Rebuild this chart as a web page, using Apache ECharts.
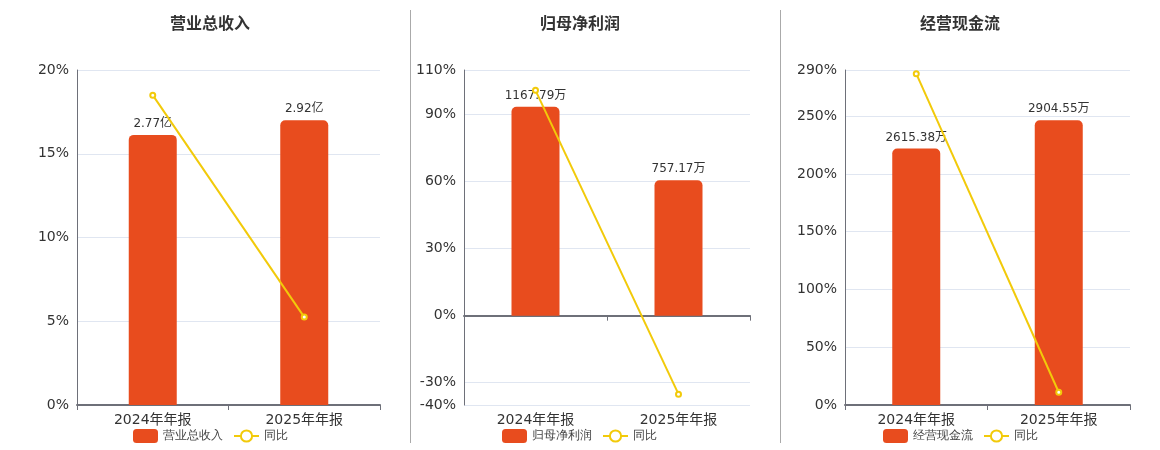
<!DOCTYPE html>
<html>
<head>
<meta charset="utf-8">
<script src="https://cdn.jsdelivr.net/npm/echarts@6/dist/echarts.min.js"></script>
<style>
  html, body { margin: 0; padding: 0; background: #fff; }
  #chart-content { width: 1160px; height: 450px; }
</style>
</head>
<body>
<div id="chart-content"></div>
<script>
  // data
  let categories = ["2024年年报", "2025年年报"];
  let titles = ["营业总收入", "归母净利润", "经营现金流"];
  let barValues = [
    [2.77, 2.92],
    [1167.79, 757.17],
    [2615.38, 2904.55],
  ];
  let barLabels = [
    ["2.77亿", "2.92亿"],
    ["1167.79万", "757.17万"],
    ["2615.38万", "2904.55万"],
  ];
  let yoyValues = [
    [18.5, 5.25],
    [100.9, -35.16],
    [286.8, 11.06],
  ];
  let axisMin = [0, -40, 0];
  let axisMax = [20, 110, 290];
  let axisStep = [5, 10, 50];
  // the % ticks that are labelled / gridded
  let tickValues = [
    [0, 5, 10, 15, 20],
    [-40, -30, 0, 30, 60, 90, 110],
    [0, 50, 100, 150, 200, 250, 290],
  ];

  let grids = [
    { left: 77, right: 780, top: 70, bottom: 45 },
    { left: 464, right: 410, top: 70, bottom: 45 },
    { left: 845, right: 30, top: 70, bottom: 45 },
  ];
  let titleX = [205, 575, 955];
  let legendX = [128, 497, 878];

  let barColor = "#E84C1E";
  let lineColor = "#F2CA0A";
  let textColor = "#333";
  let font = "DejaVu Sans, Noto Sans CJK SC, sans-serif";

  let xAxis = [], yAxis = [], series = [], title = [], legend = [];

  titles.forEach(function (name, i) {
    title.push({
      text: name,
      left: titleX[i],
      top: 12,
      textAlign: "center",
      textStyle: { fontSize: 16, fontWeight: "bold", color: textColor, fontFamily: font },
    });

    // axis line that sits on zero, no labels
    xAxis.push({
      type: "category",
      gridIndex: i,
      data: categories,
      position: "bottom",
      axisLine: { onZero: true, lineStyle: { color: "#6E7079", width: 2 } },
      axisTick: { show: true, lineStyle: { color: "#6E7079" } },
      axisLabel: { show: false },
    });
    // labels at the bottom of the grid
    xAxis.push({
      type: "category",
      gridIndex: i,
      data: categories,
      position: "bottom",
      axisLine: { show: false, onZero: false },
      axisTick: { show: false },
      axisLabel: { color: textColor, fontSize: 14, margin: 8, fontFamily: font },
    });

    // one colour per step, transparent where the reference has no grid line
    let lineColors = [];
    for (let v = axisMin[i]; v <= axisMax[i]; v += axisStep[i]) {
      lineColors.push(tickValues[i].indexOf(v) >= 0 ? "#E0E6F1" : "rgba(0,0,0,0)");
    }
    if (tickValues[i].indexOf(axisMax[i]) >= 0 && (axisMax[i] - axisMin[i]) % axisStep[i] !== 0) {
      lineColors.push("#E0E6F1");
    }

    yAxis.push({
      type: "value",
      gridIndex: i,
      min: axisMin[i],
      max: axisMax[i],
      interval: axisStep[i],
      axisLine: { show: true, lineStyle: { color: "#6E7079" } },
      axisTick: { show: false },
      axisLabel: {
        color: textColor,
        fontSize: 14,
        fontFamily: font,
        formatter: function (v) {
          return tickValues[i].indexOf(Math.round(v)) >= 0 ? Math.round(v) + "%" : "";
        },
      },
      splitLine: { lineStyle: { color: lineColors } },
    });

    // hidden scale for the bars, zero kept level with the % axis
    let barMax = Math.max.apply(null, barValues[i]) / 0.85;
    let barMin = barMax * axisMin[i] / axisMax[i];
    yAxis.push({
      type: "value",
      gridIndex: i,
      min: barMin,
      max: barMax,
      show: false,
      splitLine: { show: false },
    });

    series.push({
      name: name,
      type: "bar",
      xAxisIndex: i * 2,
      yAxisIndex: i * 2 + 1,
      barWidth: 48,
      data: barValues[i],
      itemStyle: { color: barColor, borderRadius: [5, 5, 0, 0] },
      label: {
        show: true,
        position: "top",
        color: textColor,
        fontSize: 12,
        fontFamily: font,
        formatter: function (p) { return barLabels[i][p.dataIndex]; },
      },
      z: 2,
    });
    series.push({
      name: "同比",
      type: "line",
      xAxisIndex: i * 2,
      yAxisIndex: i * 2,
      data: yoyValues[i],
      symbol: "emptyCircle",
      symbolSize: 5,
      lineStyle: { color: lineColor, width: 2 },
      itemStyle: { color: lineColor },
      z: 5,
    });

    legend.push({
      left: legendX[i],
      top: 424,
      itemWidth: 25,
      itemHeight: 14,
      itemGap: 10,
      textStyle: { color: "#444", fontSize: 12 },
      data: [
        { name: name, icon: "roundRect" },
        { name: "同比" },
      ],
    });
  });

  const chartDom = document.getElementById("chart-content");
  const myChart = echarts.init(chartDom);
  myChart.setOption({
    animation: false,
    title: title,
    legend: legend,
    grid: grids,
    xAxis: xAxis,
    yAxis: yAxis,
    series: series,
    graphic: [
      { type: "line", shape: { x1: 410.5, y1: 10, x2: 410.5, y2: 443 }, style: { stroke: "#aaa", lineWidth: 1 } },
      { type: "line", shape: { x1: 780.5, y1: 10, x2: 780.5, y2: 443 }, style: { stroke: "#aaa", lineWidth: 1 } },
    ],
  });
</script>
</body>
</html>
